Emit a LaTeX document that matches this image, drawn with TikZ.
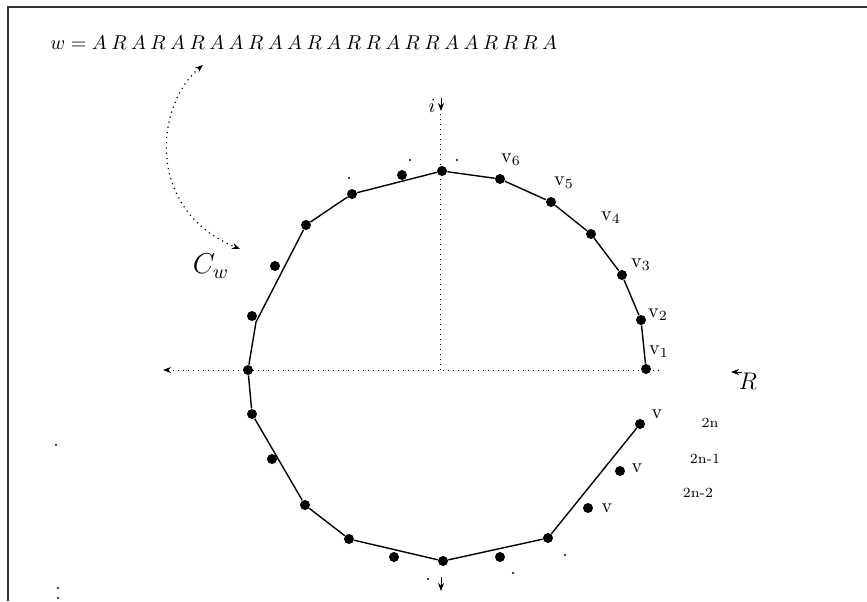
\documentclass[tikz,border=0pt]{standalone}
\usetikzlibrary{arrows.meta}
\tikzset{
  dot/.style={circle, fill, inner sep=0pt, minimum size=5pt},
  speck/.style={circle, fill, inner sep=0pt, minimum size=1.2pt},
  lbl/.style={inner sep=0pt},
  axis/.style={dotted, line width=0.5pt},
  sublbl/.style={inner sep=0pt, font=\scriptsize},
}
\newcommand{\lsp}{\hspace{2.2pt}}
\begin{document}
\begin{tikzpicture}[x=0.5pt, y=-0.5pt, >={Stealth[length=4pt, width=3pt]}]
    \useasboundingbox (0,0) rectangle (867,601);

    % Frame
    \draw[line width=1pt, black!80] (8,601) -- (8,7) -- (867,7);

    % Word
    \node[lbl, anchor=base west] (word) at (50,49)
      {$w = A\lsp R\lsp A\lsp R\lsp A\lsp R\lsp A\lsp A\lsp R\lsp A\lsp A\lsp R\lsp A\lsp R\lsp R\lsp A\lsp R\lsp R\lsp A\lsp A\lsp R\lsp R\lsp R\lsp A$};

    % Axes
    \coordinate (O) at (440,370);
    \coordinate (xl) at (163,370);
    \coordinate (xr) at (662,370);
    \coordinate (yt) at (440,114);
    \draw[axis, <-] (xl) -- (xr);
    \draw[axis] (yt) -- (O);
    \node[lbl] (R) at (748,381) {\large $R$};
    \coordinate (rtail) at (742,372);
    \coordinate (rtip) at (731,372);
    \draw[->] (rtail) -- (rtip);
    \node[lbl] (i) at (432,106) {$i$};
    \coordinate (itail) at (441,98);
    \coordinate (itip) at (441,111);
    \draw[->] (itail) -- (itip);
    \coordinate (btail) at (441,577);
    \coordinate (btip) at (441,591);
    \draw[->] (btail) -- (btip);

    % Curve from the word to C_w
    \coordinate (wt) at (203,65);
    \coordinate (ct) at (240,249);
    \draw[dotted, line width=0.6pt, <->] (wt) .. controls (155,105) and (145,210) .. (ct);
    \node[lbl] (cw) at (211,266) {\Large $C_w$};

    % Vertices on the path
    \node[dot] (v1) at (646,369) {};
    \node[dot] (v2) at (641,320) {};
    \node[dot] (v3) at (622,275) {};
    \node[dot] (v4) at (591,234) {};
    \node[dot] (v5) at (551,202) {};
    \node[dot] (v6) at (500,179) {};
    \node[dot] (vtop) at (442,171) {};
    \node[dot] (va) at (352,194) {};
    \node[dot] (vb) at (306,225) {};
    \coordinate (vc) at (256,322);
    \node[dot] (vleft) at (248,370) {};
    \node[dot] (vd) at (252,414) {};
    \node[dot] (ve) at (305,505) {};
    \node[dot] (vf) at (349,539) {};
    \node[dot] (vbot) at (443,561) {};
    \node[dot] (vh) at (548,538) {};
    \node[dot] (vn) at (640,424) {};

    % Vertices off the path
    \node[dot] (vn1) at (620,471) {};
    \node[dot] (vn2) at (588,508) {};
    \node[dot] (u1) at (402,175) {};
    \node[dot] (u2) at (275,266) {};
    \node[dot] (u3) at (252,316) {};
    \node[dot] (u4) at (272,459) {};
    \node[dot] (u5) at (394,557) {};
    \node[dot] (u6) at (500,557) {};

    % Specks
    \node[speck] (s1) at (349,178) {};
    \node[speck] (s2) at (410,160) {};
    \node[speck] (s3) at (457,160) {};
    \node[speck] (s4) at (428,579) {};
    \node[speck] (s5) at (513,573) {};
    \node[speck] (s6) at (565,555) {};
    \node[speck] (s7) at (56,445) {};
    \node[speck] (s8) at (58,588) {};
    \node[speck] (s9) at (58,598) {};

    % Path C_w
    \draw[line width=0.7pt] (v1) -- (v2) -- (v3) -- (v4) -- (v5) -- (v6) -- (vtop) -- (va) -- (vb) -- (vc) -- (vleft)
      -- (vd) -- (ve) -- (vf) -- (vbot) -- (vh) -- (vn);

    % Labels
    \node[lbl] (l6) at (511,160) {v$_6$};
    \node[lbl] (l5) at (564,183) {v$_5$};
    \node[lbl] (l4) at (611,218) {v$_4$};
    \node[lbl] (l3) at (641,265) {v$_3$};
    \node[lbl] (l2) at (658,315) {v$_2$};
    \node[lbl] (l1) at (659,352) {v$_1$};
    \node[lbl] (ln) at (657,414) {v};
    \node[lbl] (ln1) at (637,468) {v};
    \node[lbl] (ln2) at (607,508) {v};
    \node[sublbl] (sn) at (710,423) {2n};
    \node[sublbl] (sn1) at (705,459) {2n-1};
    \node[sublbl] (sn2) at (698,493) {2n-2};
\end{tikzpicture}
\end{document}
